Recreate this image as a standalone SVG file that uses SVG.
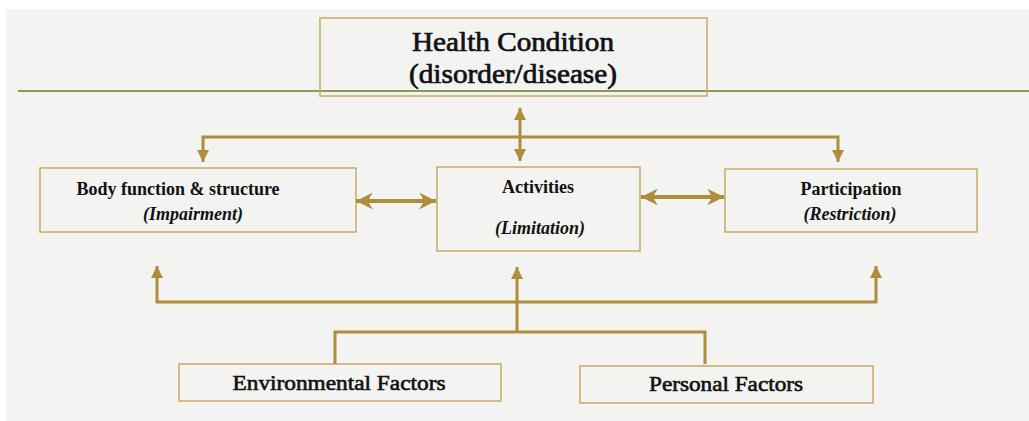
<svg xmlns="http://www.w3.org/2000/svg" width="1029" height="421" viewBox="0 0 1029 421">
<defs>
<style>
.box{fill:none;stroke:#c9aa62;stroke-width:1.5}
.ln{fill:none;stroke:#b08d3a;stroke-width:3}
.thick{fill:none;stroke:#b08d3a;stroke-width:4}
.t{font-family:"Liberation Serif","DejaVu Serif",serif;fill:#111;text-anchor:middle}
.b{font-weight:bold;font-size:18px}
.bi{font-weight:bold;font-style:italic;font-size:18px}
.big{font-size:27px;font-weight:normal;stroke:#111;stroke-width:0.7}
.f{font-size:21px;font-weight:normal;stroke:#111;stroke-width:0.6}
</style>
<marker id="ah" viewBox="0 0 10 10" refX="10" refY="5" markerWidth="4" markerHeight="4" orient="auto-start-reverse" markerUnits="strokeWidth">
<path d="M0,0 L10,5 L0,10 z" fill="#b08d3a"/>
</marker>
<marker id="ahw" viewBox="0 0 10 10" refX="10" refY="5" markerWidth="6.5" markerHeight="4.2" orient="auto-start-reverse" markerUnits="strokeWidth">
<path d="M0,0 L10,5 L0,10 L3,5 z" fill="#b08d3a"/>
</marker>
</defs>
<rect width="1029" height="421" fill="#ffffff"/>
<rect x="6" y="9" width="1023" height="412" fill="#f3f3f2"/>
<line x1="18" y1="91" x2="1029" y2="91" stroke="#8a9a4e" stroke-width="2"/>

<g id="health">
<rect class="box" x="320" y="18" width="387" height="78"/>
<text class="t big" x="513" y="51" textLength="202" lengthAdjust="spacingAndGlyphs">Health Condition</text>
<text class="t big" x="513" y="83" textLength="208" lengthAdjust="spacingAndGlyphs">(disorder/disease)</text>
</g>
<g id="body">
<rect class="box" x="40" y="168" width="316" height="64"/>
<text class="t b" x="178" y="195">Body function &amp; structure</text>
<text class="t bi" x="193" y="220">(Impairment)</text>
</g>
<g id="activities">
<rect class="box" x="437" y="167" width="203" height="84"/>
<text class="t b" x="538" y="193">Activities</text>
<text class="t bi" x="540" y="234">(Limitation)</text>
</g>
<g id="participation">
<rect class="box" x="725" y="169" width="252" height="63"/>
<text class="t b" x="851" y="195">Participation</text>
<text class="t bi" x="850" y="220">(Restriction)</text>
</g>
<g id="environmental">
<rect class="box" x="179" y="364" width="322" height="37"/>
<text class="t f" x="339" y="390" textLength="213" lengthAdjust="spacingAndGlyphs">Environmental Factors</text>
</g>
<g id="personal">
<rect class="box" x="580" y="366" width="293" height="37"/>
<text class="t f" x="726" y="391" textLength="154" lengthAdjust="spacingAndGlyphs">Personal Factors</text>
</g>

<g id="connectors">
<line class="ln" x1="520" y1="108" x2="520" y2="161" marker-start="url(#ah)" marker-end="url(#ah)"/>
<path class="ln" d="M203,162 V137 H838 V162" marker-start="url(#ah)" marker-end="url(#ah)"/>
<line class="thick" x1="356" y1="201" x2="436" y2="201" marker-start="url(#ahw)" marker-end="url(#ahw)"/>
<line class="thick" x1="641" y1="197" x2="724" y2="197" marker-start="url(#ahw)" marker-end="url(#ahw)"/>
<path class="ln" d="M157,266 V302 H876 V266" marker-start="url(#ah)" marker-end="url(#ah)"/>
<line class="ln" x1="517" y1="333" x2="517" y2="267" marker-end="url(#ah)"/>
<path class="ln" d="M335,364 V332 H705 V364"/>
</g>
</svg>
